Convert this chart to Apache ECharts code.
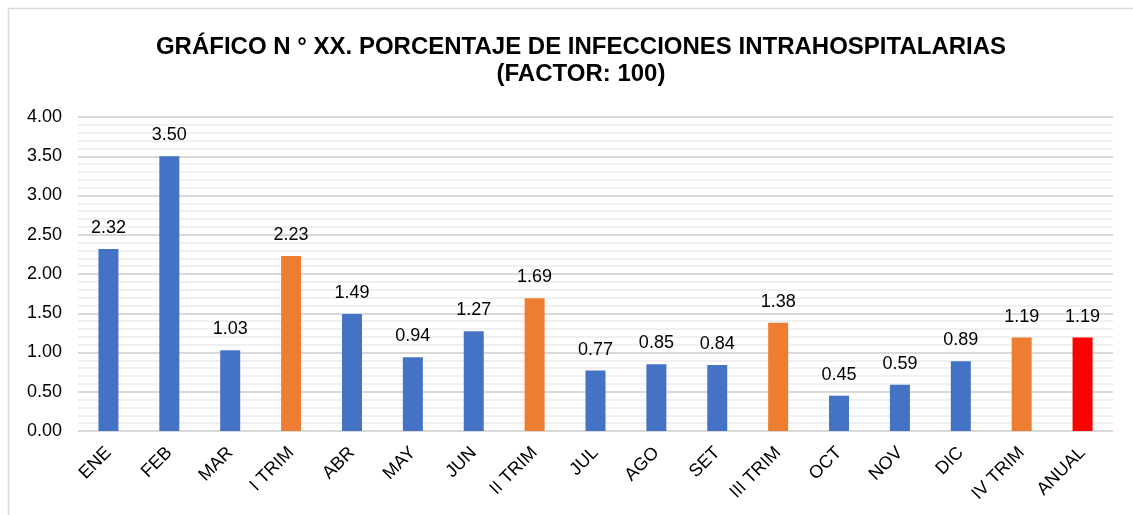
<!DOCTYPE html>
<html>
<head>
<meta charset="utf-8">
<script src="https://cdn.jsdelivr.net/npm/echarts@6/dist/echarts.min.js"></script>
<style>
  html, body { margin: 0; padding: 0; background: #fff; }
  #main { width: 1133px; height: 515px; }
</style>
</head>
<body>
<div id="main"></div>
<script>
var categories = ['ENE', 'FEB', 'MAR', 'I TRIM', 'ABR', 'MAY', 'JUN', 'II TRIM',
  'JUL', 'AGO', 'SET', 'III TRIM', 'OCT', 'NOV', 'DIC', 'IV TRIM', 'ANUAL'];
var values = [2.32, 3.50, 1.03, 2.23, 1.49, 0.94, 1.27, 1.69,
  0.77, 0.85, 0.84, 1.38, 0.45, 0.59, 0.89, 1.19, 1.19];
// m = month, t = quarter, a = annual
var kinds = ['m', 'm', 'm', 't', 'm', 'm', 'm', 't',
  'm', 'm', 'm', 't', 'm', 'm', 'm', 't', 'a'];

var kindColor = { m: '#4472C4', t: '#ED7D31', a: '#FF0000' };
var font = '"Liberation Sans", Arial, sans-serif';

var titleStyle = {
  fontFamily: font,
  fontSize: 24,
  fontWeight: 'bold',
  color: '#000',
  lineHeight: 27
};

var chart = echarts.init(document.getElementById('main'));

chart.setOption({
  animation: false,
  textStyle: { fontFamily: font },
  graphic: [{
    type: 'rect',
    shape: { x: 8.5, y: 8.5, width: 1140, height: 520 },
    style: { fill: 'none', stroke: '#d9d9d9', lineWidth: 1.5 },
    silent: true
  }],
  title: {
    text: 'GRÁFICO N ° XX. PORCENTAJE DE INFECCIONES INTRAHOSPITALARIAS',
    subtext: '(FACTOR: 100)',
    left: 576,
    top: 29,
    textAlign: 'center',
    itemGap: 0,
    textStyle: titleStyle,
    subtextStyle: titleStyle
  },
  grid: { left: 78, right: 20, top: 117, bottom: 84 },
  xAxis: {
    type: 'category',
    data: categories,
    axisLine: { show: false },
    axisTick: { show: false },
    axisLabel: {
      rotate: 45,
      interval: 0,
      margin: 19,
      fontSize: 18,
      color: '#000',
      fontFamily: font
    }
  },
  yAxis: {
    type: 'value',
    min: 0,
    max: 4,
    interval: 0.5,
    axisLine: { show: false },
    axisTick: { show: false },
    axisLabel: {
      fontSize: 18,
      color: '#000',
      margin: 16,
      fontFamily: font,
      formatter: function (v) { return v.toFixed(2); }
    },
    splitLine: { lineStyle: { color: '#d9d9d9', width: 2 } },
    minorTick: { show: false, splitNumber: 5 },
    minorSplitLine: { show: true, lineStyle: { color: '#f0f0f0', width: 2 } }
  },
  series: [{
    type: 'bar',
    barWidth: 20,
    data: values.map(function (v, i) {
      return { value: v, itemStyle: { color: kindColor[kinds[i]] } };
    }),
    label: {
      show: true,
      position: 'top',
      distance: 12,
      fontSize: 18,
      color: '#000',
      fontFamily: font,
      formatter: function (p) { return p.value.toFixed(2); }
    }
  }]
});
</script>
</body>
</html>
